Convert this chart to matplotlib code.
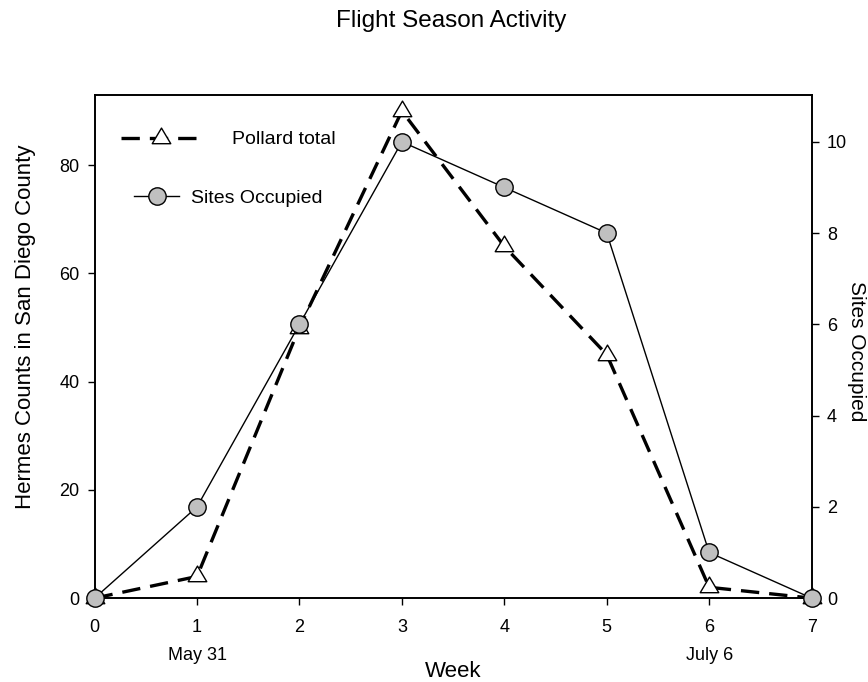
import matplotlib.pyplot as plt
from matplotlib.lines import Line2D
from matplotlib.path import Path

plt.rcParams['font.family'] = ['Liberation Sans', 'DejaVu Sans']

# data
weeks = [0, 1, 2, 3, 4, 5, 6, 7]
pollard_total = [0, 4, 50, 90, 65, 45, 2, 0]
sites_occupied = [0, 2, 6, 10, 9, 8, 1, 0]
date_labels = {1: 'May 31', 6: 'July 6'}

# triangle centred on its centroid (like SigmaPlot)
tri = Path([(0, 1), (-0.89, -0.5), (0.89, -0.5), (0, 1)],
           [Path.MOVETO, Path.LINETO, Path.LINETO, Path.CLOSEPOLY])
dash = (0, (5.5, 3.0))

fig = plt.figure(figsize=(8.68, 6.82), dpi=100)
ax = fig.add_axes([0.109, 0.123, 0.826, 0.738])
ax2 = ax.twinx()

ax.plot(weeks, pollard_total, color='black', linewidth=2.4, linestyle=dash,
        marker=tri, markersize=15, markerfacecolor='white', markeredgecolor='black',
        markeredgewidth=1.0, clip_on=False, zorder=3)
ax2.plot(weeks, sites_occupied, color='black', linewidth=1.0,
         marker='o', markersize=12.5, markerfacecolor='#c0c0c0', markeredgecolor='black',
         markeredgewidth=1.0, clip_on=False, zorder=4)

ax.set_xlim(0, 7)
ax.set_ylim(0, 93)
ax2.set_ylim(0, 11.03)
ax.set_yticks([0, 20, 40, 60, 80])
ax2.set_yticks([0, 2, 4, 6, 8, 10])
ax.set_xticks(weeks)

for a in (ax, ax2):
    a.tick_params(direction='out', length=5, width=1, labelsize=13, pad=6)
    for s in a.spines.values():
        s.set_linewidth(1.2)
ax.tick_params(axis='x', pad=10)

ax.set_zorder(ax2.get_zorder() - 1)
ax.patch.set_visible(True)
ax2.patch.set_visible(False)

for wk, lab in date_labels.items():
    ax.text(wk, -0.123, lab, transform=ax.get_xaxis_transform(),
            ha='center', va='baseline', fontsize=13)

fig.text(0.5225, 5 / 682, 'Week', ha='center', va='baseline', fontsize=16)
ax.set_ylabel('Hermes Counts in San Diego County', fontsize=16)
ax.yaxis.set_label_coords(-0.082, 0.539)
ax2.set_ylabel('Sites Occupied', fontsize=15, rotation=270, va='bottom')
ax2.yaxis.set_label_coords(1.050, 0.491)

fig.text(0.52, 1 - 21 / 682, 'Flight Season Activity', ha='center', va='center',
         fontsize=17.5)

h1 = Line2D([], [], color='black', linewidth=2.4, linestyle=dash,
            marker=tri, markersize=15, markerfacecolor='white', markeredgecolor='black')
h2 = Line2D([], [], color='black', linewidth=1.0,
            marker='o', markersize=12.5, markerfacecolor='#c0c0c0', markeredgecolor='black')
leg1 = ax2.legend([h1], ['Pollard total'], loc='center left',
                  bbox_to_anchor=(0.0265, 0.911), frameon=False, fontsize=14,
                  handlelength=4.1, handletextpad=1.6, borderaxespad=0)
ax2.add_artist(leg1)
ax2.legend([h2], ['Sites Occupied'], loc='center left',
           bbox_to_anchor=(0.0446, 0.795), frameon=False, fontsize=14,
           handlelength=2.3, handletextpad=0.6, borderaxespad=0)

fig.savefig('out.png', dpi=100)
